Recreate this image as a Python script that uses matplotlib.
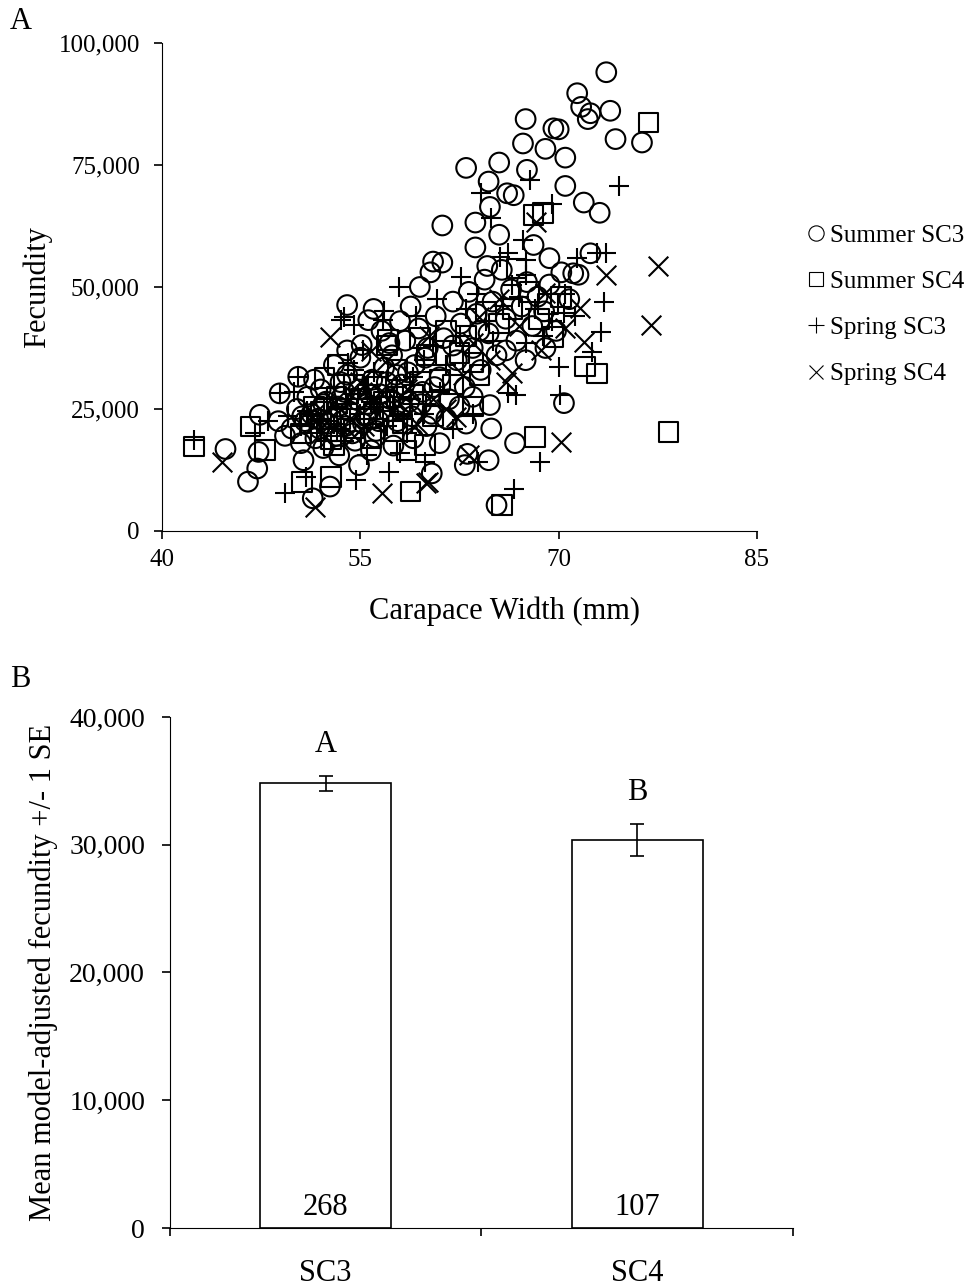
import matplotlib
matplotlib.use('agg')
import matplotlib.pyplot as plt
from matplotlib.lines import Line2D
from matplotlib.ticker import FuncFormatter

plt.rcParams['font.family'] = ['Liberation Serif', 'DejaVu Serif']

# Panel A data: carapace width (mm) vs fecundity
summer_sc3_cw = [73.6, 71.4, 71.7, 72.4, 72.2, 73.9, 67.5, 69.6, 70.0, 74.3, 76.3, 67.3, 69.0, 70.5,
                 63.0, 65.5, 67.6, 64.7, 70.5, 66.1, 66.6, 71.9, 73.1, 64.8, 61.2, 63.7, 65.5, 63.7,
                 68.1, 69.3, 60.5, 64.6, 72.4, 71.1, 54.0,
                 70.4, 64.9, 66.7, 64.7, 62.9, 60.4, 65.3, 64.8, 63.1,
                 44.8, 47.3, 47.2, 46.5, 47.4, 51.4, 52.7, 50.7, 54.9, 48.9, 50.3, 54.0, 55.6, 55.1,
                 50.2, 50.8, 51.3, 51.9, 52.4, 52.8, 53.2, 53.6, 53.9, 54.2, 54.6, 54.9, 55.2, 55.5,
                 55.9, 56.2, 56.5, 56.8, 57.1, 57.4, 57.8, 58.1, 58.4, 58.7, 59.1, 59.4, 59.7, 60.1,
                 60.4, 60.7, 61.0, 61.3, 61.7, 62.0, 62.3, 62.6, 62.9, 63.2, 63.5, 63.8, 64.1, 64.4,
                 64.7, 65.0, 65.3, 65.7, 66.0, 66.4, 66.8, 67.2, 67.6, 68.0, 68.4, 68.9, 69.3, 69.8,
                 70.2, 70.8, 71.5, 56.0, 56.6, 57.2, 58.0, 58.8, 59.5, 60.3, 61.2, 53.0, 53.5, 52.0,
                 51.5, 51.0, 49.8, 49.3, 48.8, 50.5, 52.2, 53.4, 55.8, 57.5, 59.0, 60.0, 61.5, 62.5,
                 63.5, 55.0, 54.0, 57.7, 59.9, 62.0, 64.0, 66.0, 67.5, 69.0, 63.0, 61.0,
                 50.6, 51.6, 52.6, 53.3, 54.4, 55.4, 56.4, 57.3, 58.2, 58.9, 59.6, 60.6, 53.8, 55.7,
                 57.0, 52.2, 51.8, 54.8, 56.1, 58.6]
summer_sc3_fec = [94000, 89700, 86900, 85600, 84400, 86100, 84400, 82500, 82300, 80300, 79600, 79400, 78300, 76500,
                  74400, 75500, 74000, 71600, 70700, 69200, 68800, 67300, 65200, 66400, 62600, 63200, 60700, 58100,
                  58600, 55900, 55200, 54300, 56900, 52800, 46300,
                  26200, 21000, 18000, 14500, 13500, 11800, 5300, 25800, 15800,
                  16800, 16200, 12800, 10100, 23800, 6700, 9100, 14500, 13500, 28200, 31600, 32000, 43200, 38100,
                  25000, 22500, 24000, 21000, 26500, 23000, 19500, 27500, 21500, 24500, 18500, 29000, 22000, 26000,
                  31000, 20500, 28000, 33500, 24500, 36000, 22500, 30000, 39000, 26500, 34000, 41500, 28500, 37500,
                  24000, 44000, 31500, 39500, 27000, 47000, 35000, 42500, 29500, 49000, 37500, 44500, 33000, 51500,
                  40500, 47000, 36000, 53500, 43500, 49500, 39000, 46000, 51000, 42000, 48000, 45000, 50500, 41000,
                  53000, 47500, 52500, 45500, 41000, 38500, 43000, 46000, 50000, 53000, 55000, 34000, 30500, 29000,
                  31000, 27500, 21000, 19500, 22500, 18000, 17000, 15500, 16500, 17500, 19000, 21500, 23000, 25500,
                  27500, 35500, 37000, 32000, 35500, 38000, 41000, 37000, 35000, 37500, 22000, 18000,
                  23500, 19000, 22000, 25500, 20000, 23500, 22500, 27000, 25000, 23500, 26000, 29500, 28500, 28000,
                  30500, 26000, 23000, 26800, 19200, 32500]

summer_sc4_cw = [76.8, 68.1, 68.8, 66.8, 72.9, 72.0, 68.2, 78.3, 65.7, 59.9, 58.8, 63.5, 70.2, 69.6,
                 42.4, 47.8, 46.7, 50.6, 52.8, 57.1, 52.3, 53.3,
                 61.5, 62.5, 64.5, 65.5, 59.0, 58.0, 57.0, 56.2, 55.0, 54.5, 53.5, 52.5, 51.2, 60.5,
                 62.0, 66.5, 67.8, 63.5, 55.8, 57.5, 60.0, 61.0, 64.0, 58.5, 56.0, 68.5, 69.2, 59.5,
                 54.0, 57.8, 63.0, 52.0, 50.5, 53.0,
                 51.5, 53.2, 55.5, 56.8, 58.2, 54.5, 59.5, 52.8]
summer_sc4_fec = [83700, 64700, 65100, 53800, 32300, 33700, 19300, 20300, 5300, 17600, 8100, 25500, 48000, 39800,
                  17300, 16600, 21400, 10100, 11100, 39100, 31300, 34000,
                  41000, 36500, 45000, 42500, 28000, 25500, 38000, 29500, 27000, 21000, 23000, 20500, 22000, 23500,
                  30000, 45500, 49000, 34500, 19000, 20500, 36000, 31000, 32000, 16500, 24000, 43500, 46500, 39500,
                  25000, 33000, 40000, 24500, 20000, 17500,
                  25500, 27500, 25000, 26500, 22000, 30000, 30500, 18800]

spring_sc3_cw = [67.8, 74.6, 64.1, 69.5, 64.9, 67.3, 65.6, 73.6, 72.9, 71.4, 73.4, 73.2, 72.5, 70.0,
                 70.1, 66.8, 66.2, 68.6, 63.9, 66.6, 67.5, 70.4, 59.9, 49.3, 54.7, 58.0, 53.8, 56.7,
                 54.1, 48.9, 50.3, 42.4, 50.9, 53.5, 54.5, 67.5, 66.2, 62.6,
                 51.0, 52.5, 53.0, 54.0, 55.0, 55.6, 56.5, 57.0, 57.8, 58.3, 59.0, 59.8, 60.5, 61.5,
                 62.5, 63.0, 63.8, 64.5, 65.0, 65.8, 66.5, 67.0, 67.5, 68.2, 68.8, 69.5, 70.5, 71.2,
                 61.0, 60.0, 58.5, 57.0, 56.0, 55.2, 54.5, 62.0, 63.5, 56.8, 57.9, 60.8, 59.2, 50.0,
                 49.5, 48.0, 47.0, 53.8, 55.5, 57.2,
                 50.5, 52.0, 53.5, 54.8, 56.2, 57.5, 58.8, 59.8, 52.8, 55.8]
spring_sc3_fec = [71900, 70700, 69300, 67100, 64100, 59600, 56200, 56900, 56900, 55900, 47000, 40800, 36700, 33500,
                  27900, 27900, 28200, 14200, 14200, 8700, 38500, 44600, 14200, 7700, 10500, 15900, 43900, 43200,
                  34400, 28200, 31600, 18600, 11100, 43200, 42200, 55500, 57000, 52000,
                  24500, 27000, 22000, 26000, 24000, 30000, 25500, 27500, 29500, 23000, 31500, 35000, 38000, 34000,
                  40000, 45500, 48500, 43000, 39000, 46000, 50500, 48000, 52500, 45500, 40000, 43000, 48500, 44000,
                  28500, 26000, 20000, 21500, 32500, 37000, 33000, 21000, 24000, 45000, 50000, 47500, 44000, 28500,
                  23500, 22500, 20000, 18500, 15500, 12000,
                  21500, 23000, 20500, 28000, 23000, 25500, 27000, 24000, 18500, 26500]

spring_sc4_cw = [77.5, 73.6, 68.3, 77.0, 71.6, 71.9, 70.2, 60.1, 66.5, 62.2, 68.7, 44.5, 51.6, 56.6,
                 60.0, 52.7, 63.2,
                 56.0, 57.5, 55.3, 58.5, 60.5, 61.5, 63.5, 64.8, 66.0, 59.3, 54.2, 62.8, 65.5, 67.0,
                 69.0, 70.5, 53.0, 57.0, 60.2, 64.0, 52.0, 55.8,
                 52.5, 54.5, 56.5, 58.0, 51.5, 55.0]
spring_sc4_fec = [54200, 52500, 63400, 42200, 45600, 38800, 18200, 10100, 32300, 23400, 37100, 14200, 5000, 7700,
                  9800, 39800, 15500,
                  26500, 24500, 21500, 29000, 27000, 25000, 38500, 35000, 30500, 22000, 23000, 32000, 47500, 42000,
                  48800, 41500, 26500, 35000, 40000, 43800, 20000, 36800,
                  22500, 19500, 28500, 26000, 24000, 30500]

# Panel B data
groups = ['SC3', 'SC4']
adj_means = [34800, 30400]
adj_se = [600, 1250]
sig_letters = ['A', 'B']
counts = [268, 107]

comma_fmt = FuncFormatter(lambda v, p: f'{int(v):,}')

fig = plt.figure(figsize=(9.72, 12.86), dpi=100)

# ---------- Panel A ----------
ax1 = fig.add_axes([0.1667, 0.5871, 0.6121, 0.3795])
ms = 200
lw = 1.5
ax1.scatter(summer_sc3_cw, summer_sc3_fec, s=ms, marker='o', facecolors='none', edgecolors='black', linewidths=lw)
ax1.scatter(summer_sc4_cw, summer_sc4_fec, s=ms, marker='s', facecolors='none', edgecolors='black', linewidths=lw)
ax1.scatter(spring_sc3_cw, spring_sc3_fec, s=ms * 1.1, marker='+', color='black', linewidths=lw)
ax1.scatter(spring_sc4_cw, spring_sc4_fec, s=ms, marker='x', color='black', linewidths=lw)

ax1.set_xlim(40, 85)
ax1.set_ylim(0, 100000)
ax1.set_xticks([40, 55, 70, 85])
ax1.set_yticks([0, 25000, 50000, 75000, 100000])
ax1.yaxis.set_major_formatter(comma_fmt)
ax1.spines['top'].set_visible(False)
ax1.spines['right'].set_visible(False)
ax1.tick_params(direction='out', length=6, width=1.2, labelsize=18, colors='black')
ax1.tick_params(axis='y', pad=10)
ax1.tick_params(axis='x', pad=7)
ax1.set_xlabel('Carapace Width (mm)', fontsize=22)
ax1.xaxis.set_label_coords(0.576, -0.135)
ax1.set_ylabel('Fecundity', fontsize=22)
ax1.yaxis.set_label_coords(-0.185, 0.5)

handles = [Line2D([0], [0], marker='o', ls='none', mfc='none', mec='black', ms=11, mew=0.8),
           Line2D([0], [0], marker='s', ls='none', mfc='none', mec='black', ms=10, mew=0.8),
           Line2D([0], [0], marker='+', ls='none', color='black', ms=12, mew=0.8),
           Line2D([0], [0], marker='x', ls='none', color='black', ms=10, mew=0.8)]
labels = ['Summer SC3', 'Summer SC4', 'Spring SC3', 'Spring SC4']
fig.legend(handles, labels, loc='center left', bbox_to_anchor=(0.822, 0.763), frameon=False,
           fontsize=18, handlelength=0.6, handletextpad=0.25, labelspacing=0.95, borderaxespad=0)

fig.text(0.01, 0.983, 'A', fontsize=22, va='center')

# ---------- Panel B ----------
ax2 = fig.add_axes([0.1749, 0.0451, 0.6409, 0.3974])
xpos = [0.5, 1.5]
ax2.bar(xpos, adj_means, width=0.42, color='white', edgecolor='black', linewidth=1.2,
        yerr=adj_se, capsize=5, error_kw={'elinewidth': 1.2, 'capthick': 1.2})
for x, m, e, let, n in zip(xpos, adj_means, adj_se, sig_letters, counts):
    ax2.text(x, m + e + 1300, let, ha='center', va='bottom', fontsize=22)
    ax2.text(x, 500, str(n), ha='center', va='bottom', fontsize=22)

ax2.set_xlim(0, 2)
ax2.set_ylim(0, 40000)
ax2.set_yticks([0, 10000, 20000, 30000, 40000])
ax2.yaxis.set_major_formatter(comma_fmt)
ax2.set_xticks([0, 1, 2])
ax2.set_xticklabels([])
ax2.set_xticks(xpos, minor=True)
ax2.set_xticklabels(groups, minor=True)
ax2.tick_params(axis='x', which='minor', length=0, pad=22, labelsize=22)
ax2.tick_params(axis='both', which='major', direction='out', length=6, width=1.2, labelsize=20)
ax2.tick_params(axis='y', which='major', pad=12)
ax2.spines['top'].set_visible(False)
ax2.spines['right'].set_visible(False)
ax2.set_ylabel('Mean model-adjusted fecundity +/- 1 SE', fontsize=22, labelpad=8)

fig.text(0.01, 0.472, 'B', fontsize=22, va='center')

fig.savefig('out.png', dpi=100)
plt.close('all')
